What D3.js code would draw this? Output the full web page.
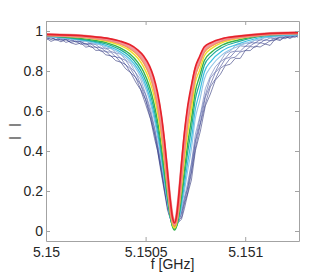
<!DOCTYPE html>
<html>
<head>
<meta charset="utf-8">
<script src="https://cdn.jsdelivr.net/npm/d3@7"></script>
<style>
body { margin: 0; background: #fff; }
text { font-family: "Liberation Sans", Arial, sans-serif; }
</style>
</head>
<body>
<script>

// frequency grid (GHz) for the smooth traces, denser around the dip
var freq = [5.150000, 5.150120, 5.150220, 5.150305, 5.150370, 5.150420, 5.150460, 5.150490,
	5.150520, 5.150540, 5.150560, 5.150580, 5.150595, 5.150610, 5.1506225, 5.150635, 5.150645,
	5.150655, 5.1506675, 5.150680, 5.150695, 5.150710, 5.150730, 5.150750, 5.150770, 5.150795,
	5.150830, 5.150885, 5.150970, 5.151095, 5.151265];

// finer grid for the noisy low-power traces
var freqFine = [5.150000, 5.150025, 5.150050, 5.150075, 5.150100, 5.150125, 5.150150, 5.150175,
	5.150200, 5.150225, 5.150250, 5.150275, 5.150300, 5.150325, 5.150350, 5.150375, 5.150400,
	5.150425, 5.150450, 5.150475, 5.150500, 5.150525, 5.150545, 5.150560, 5.150580, 5.150595,
	5.150610, 5.1506225, 5.150635, 5.150645, 5.150655, 5.1506675, 5.150680, 5.150695, 5.150710,
	5.150730, 5.150750, 5.150775, 5.150800, 5.150825, 5.150850, 5.150875, 5.150900, 5.150925,
	5.150950, 5.150975, 5.151000, 5.151025, 5.151050, 5.151075, 5.151100, 5.151125, 5.151150,
	5.151175, 5.151200, 5.151225, 5.151250, 5.151265];

// |S21|, low power (noisy, navy) traces on freqFine
var navyA = [.965, .948, .958, .946, .957, .941, .933, .940, .919, .925, .903, .904, .881, .876, .852, .844,
	.811, .792, .745, .706, .634, .559, .462, .401, .278, .194, .104, .066, .028, .028,
	.027, .047, .058, .113, .180, .255, .402, .500, .626, .685, .754, .783, .827, .834, .863, .863,
	.902, .902, .924, .920, .935, .928, .959, .952, .971, .963, .975, .969];
var navyB = [.957, .966, .954, .960, .943, .951, .949, .933, .938, .919, .920, .899, .900, .874, .872, .844,
	.832, .791, .768, .709, .657, .562, .485, .404, .293, .199, .118, .068, .035, .025,
	.030, .056, .067, .136, .185, .290, .414, .535, .637, .721, .759, .813, .831, .864, .869, .895,
	.902, .922, .919, .942, .935, .951, .954, .969, .961, .975, .968, .979];
var navyC = [.969, .956, .968, .953, .959, .943, .949, .947, .930, .936, .918, .919, .895, .895, .870, .865,
	.830, .811, .768, .732, .657, .583, .488, .420, .299, .214, .124, .070, .033, .025,
	.033, .053, .087, .144, .209, .301, .446, .543, .669, .732, .792, .820, .861, .870, .898, .899,
	.923, .925, .942, .939, .957, .951, .965, .958, .972, .966, .980, .974];
var navyD = [.965, .970, .957, .964, .955, .960, .944, .947, .935, .939, .932, .913, .915, .898, .889, .863,
	.853, .817, .791, .734, .681, .590, .512, .425, .316, .221, .139, .068, .034, .022,
	.031, .055, .095, .162, .213, .331, .454, .574, .680, .765, .796, .846, .863, .893, .900, .926,
	.923, .942, .940, .957, .952, .966, .959, .972, .968, .978, .975, .982];
var blueE = [.976, .964, .972, .956, .964, .951, .960, .943, .952, .934, .936, .931, .909, .916, .890, .884,
	.855, .837, .791, .758, .685, .610, .517, .444, .320, .235, .146, .073, .037, .028,
	.034, .056, .112, .169, .234, .341, .485, .584, .712, .774, .821, .848, .887, .899, .928, .932,
	.940, .938, .955, .953, .970, .966, .971, .966, .978, .972, .982, .979];

// |S21|, higher power traces on freq
var lightBlue = [.972, .960, .944, .920, .889, .849, .798, .739, .653, .573, .471, .347, .243, .142, .071, .027, .015,
	.024, .059, .116, .201, .293, .410, .565, .645, .760, .824, .882, .925, .965, .980];
var cyan = [.974, .963, .949, .926, .898, .861, .812, .756, .672, .594, .493, .366, .258, .150, .074, .025, .012,
	.024, .066, .134, .232, .334, .458, .610, .690, .795, .851, .901, .937, .970, .982];
var teal = [.976, .966, .952, .934, .908, .874, .828, .775, .696, .620, .519, .390, .278, .163, .079, .025, .010,
	.024, .077, .159, .273, .384, .513, .660, .735, .829, .877, .918, .948, .975, .985];
var green = [.977, .968, .957, .941, .917, .886, .844, .796, .720, .647, .548, .417, .299, .175, .083, .022, .005,
	.022, .086, .181, .308, .427, .558, .700, .770, .852, .894, .930, .956, .978, .986];
var yellow = [.978, .972, .964, .949, .929, .902, .865, .821, .752, .684, .590, .460, .339, .207, .105, .034, .015,
	.035, .112, .219, .357, .480, .610, .745, .800, .876, .912, .942, .963, .981, .988];
var orange = [.980, .975, .967, .954, .937, .912, .880, .840, .777, .714, .623, .496, .373, .234, .124, .046, .025,
	.049, .136, .256, .401, .527, .651, .775, .830, .894, .924, .950, .968, .983, .989];
var pink = [.981, .977, .970, .959, .943, .922, .892, .856, .799, .740, .655, .531, .407, .262, .145, .059, .035,
	.063, .162, .293, .447, .571, .690, .800, .850, .908, .934, .956, .971, .984, .990];
var red = [.983, .979, .973, .964, .950, .932, .906, .875, .824, .771, .692, .573, .448, .296, .166, .068, .040,
	.073, .187, .333, .492, .615, .728, .820, .870, .921, .943, .962, .974, .986, .992];

var xTicks = [5.15, 5.1505, 5.151];
var yTicks = [0, 0.2, 0.4, 0.6, 0.8, 1];

var traces = [
	{ x: freqFine, values: navyA, color: "#1f2570", width: 0.7, opacity: 0.8, curve: d3.curveLinear },
	{ x: freqFine, values: navyB, color: "#272f80", width: 0.7, opacity: 0.8, curve: d3.curveLinear },
	{ x: freqFine, values: navyC, color: "#2f3a8c", width: 0.7, opacity: 0.8, curve: d3.curveLinear },
	{ x: freqFine, values: navyD, color: "#3a4796", width: 0.7, opacity: 0.8, curve: d3.curveLinear },
	{ x: freqFine, values: blueE, color: "#5a6cb0", width: 0.7, opacity: 0.8, curve: d3.curveLinear },
	{ x: freq, values: lightBlue, color: "#92c4e6", width: 1.1, opacity: 1, curve: d3.curveMonotoneX },
	{ x: freq, values: cyan, color: "#3ec0e2", width: 1.2, opacity: 1, curve: d3.curveMonotoneX },
	{ x: freq, values: teal, color: "#1fab9c", width: 1.2, opacity: 1, curve: d3.curveMonotoneX },
	{ x: freq, values: green, color: "#36b34a", width: 1.4, opacity: 1, curve: d3.curveMonotoneX },
	{ x: freq, values: yellow, color: "#f0dc2a", width: 1.4, opacity: 1, curve: d3.curveMonotoneX },
	{ x: freq, values: orange, color: "#f6a234", width: 1.4, opacity: 1, curve: d3.curveMonotoneX },
	{ x: freq, values: pink, color: "#f0868b", width: 3.5, opacity: 0.85, curve: d3.curveMonotoneX },
	{ x: freq, values: red, color: "#e6222b", width: 1.7, opacity: 1, curve: d3.curveMonotoneX }
];

var margin = { top: 21, right: 33, bottom: 34, left: 46 },
	width = 332 - margin.left - margin.right,
	height = 275 - margin.top - margin.bottom;

var svg = d3.select("body").append("svg")
	.attr("width", 332)
	.attr("height", 275)
	.append("g")
	.attr("transform", "translate(" + margin.left + "," + margin.top + ")");

var xScale = d3.scaleLinear()
	.domain([5.15, 5.15127])
	.range([0, width]);

var yScale = d3.scaleLinear()
	.domain([-0.05, 1.05])
	.range([height, 0]);

svg.selectAll(".trace")
	.data(traces)
	.enter().append("path")
	.attr("class", "trace")
	.attr("fill", "none")
	.attr("stroke", function(d) { return d.color; })
	.attr("stroke-width", function(d) { return d.width; })
	.attr("stroke-opacity", function(d) { return d.opacity; })
	.attr("stroke-linejoin", "round")
	.attr("d", function(d) {
		var line = d3.line()
			.x(function(v, i) { return xScale(d.x[i]); })
			.y(function(v) { return yScale(v); })
			.curve(d.curve);
		return line(d.values);
	});

// box with inward ticks on all sides
var axisColor = "#a3a3a3";
var fmt = function(d) { return String(+d.toFixed(4)); };

var axes = [
	{ axis: d3.axisBottom(xScale).tickValues(xTicks).tickFormat(fmt).tickPadding(6), t: "translate(0," + height + ")" },
	{ axis: d3.axisTop(xScale).tickValues(xTicks).tickFormat(""), t: null },
	{ axis: d3.axisLeft(yScale).tickValues(yTicks).tickFormat(fmt).tickPadding(3), t: null },
	{ axis: d3.axisRight(yScale).tickValues(yTicks).tickFormat(""), t: "translate(" + width + ",0)" }
];

axes.forEach(function(a) {
	var g = svg.append("g")
		.attr("transform", a.t)
		.call(a.axis.tickSizeInner(-4).tickSizeOuter(0));
	g.select(".domain").attr("stroke", axisColor);
	g.selectAll(".tick line").attr("stroke", axisColor);
	g.selectAll(".tick text")
		.attr("fill", "#262626")
		.style("font-size", "14px");
});

svg.append("text")
	.attr("x", width / 2)
	.attr("y", height + 28)
	.attr("text-anchor", "middle")
	.attr("fill", "#262626")
	.style("font-size", "14px")
	.text("f [GHz]");

// y label: the two bars of |S21| (the subscript text is missing in the original)
[125, 138].forEach(function(y) {
	svg.append("text")
		.attr("transform", "translate(" + (18 - margin.left) + "," + (y - margin.top) + ") rotate(-90)")
		.attr("text-anchor", "middle")
		.attr("fill", "#262626")
		.style("font-size", "13px")
		.text("|");
});

</script>
</body>
</html>
